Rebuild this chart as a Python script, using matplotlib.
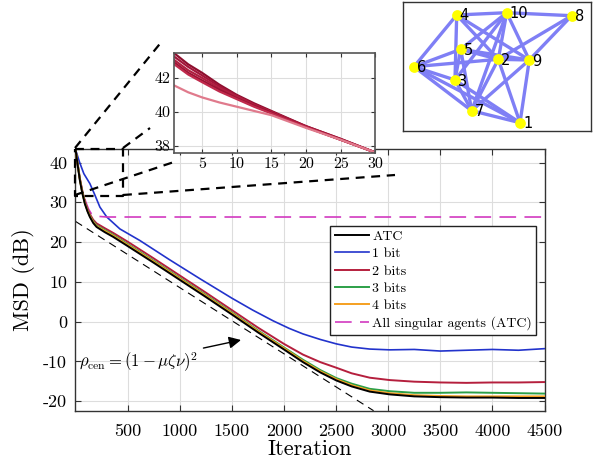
import numpy as np
import matplotlib
matplotlib.use("Agg")
import matplotlib.pyplot as plt
from matplotlib.lines import Line2D

plt.rcParams['font.family'] = ['cmr10', 'DejaVu Serif']
plt.rcParams['mathtext.fontset'] = 'cm'
plt.rcParams['axes.formatter.use_mathtext'] = True

# ---- main curves (iteration, MSD in dB) ----
it_atc = [1, 20, 42, 65, 90, 115, 138, 170, 202, 280, 362, 500, 750, 1000, 1250, 1500,
          1750, 2000, 2183, 2350, 2503, 2650, 2823, 3015, 3250, 3500, 3750, 4000, 4250, 4500]
msd_atc = [43.2, 39.5, 35.5, 32.3, 29.6, 27.7, 26.3, 24.8, 23.8, 22.5, 21.3, 19.0, 14.8, 10.5,
           6.2, 1.8, -2.7, -7.0, -10.2, -12.8, -14.8, -16.3, -17.6, -18.3, -18.8, -19.0,
           -19.1, -19.1, -19.2, -19.2]
msd_4bit = [43.2, 39.6, 35.7, 32.5, 29.8, 27.9, 26.5, 25.0, 24.0, 22.8, 21.6, 19.3, 15.1, 10.8,
            6.5, 2.1, -2.4, -6.7, -9.9, -12.5, -14.5, -16.0, -17.3, -18.0, -18.5, -18.7,
            -18.8, -18.8, -18.8, -18.8]
msd_3bit = [43.2, 39.7, 35.8, 32.6, 29.9, 28.0, 26.6, 25.2, 24.2, 23.0, 21.8, 19.5, 15.3, 11.0,
            6.7, 2.3, -2.2, -6.5, -9.6, -12.2, -14.2, -15.6, -16.9, -17.5, -17.9, -17.9,
            -17.8, -17.9, -18.0, -18.1]
msd_2bit = [43.3, 39.9, 36.0, 32.9, 30.2, 28.4, 27.0, 25.6, 24.7, 23.5, 22.3, 20.1, 15.9, 11.6,
            7.3, 2.9, -1.5, -5.6, -8.3, -10.2, -11.6, -13.0, -14.1, -14.7, -15.1, -15.3,
            -15.4, -15.3, -15.3, -15.2]

it_1bit = [1, 40, 80, 138, 180, 234, 300, 426, 617, 900, 1193, 1500, 1700, 1896, 2050, 2183,
           2350, 2503, 2650, 2823, 3015, 3250, 3500, 3750, 4000, 4250, 4500]
msd_1bit = [43.2, 40.0, 37.2, 34.7, 32.2, 28.8, 26.3, 23.3, 20.4, 15.6, 10.8, 5.9, 2.9, 0.2,
            -1.7, -3.1, -4.5, -5.6, -6.4, -6.9, -7.1, -7.0, -7.4, -7.2, -7.0, -7.2, -6.8]

it_single = [1, 25, 50, 75, 100, 125, 150, 200, 300, 4500]
msd_single = [43.2, 38.5, 34.8, 32.0, 30.0, 28.3, 27.2, 26.5, 26.3, 26.3]

# centralized rate reference line
it_cen = [0, 2860]
msd_cen = [25.2, -22.4]

# ---- zoomed inset: several agents, 2 bits ----
it_zoom = [1, 3, 5, 7.5, 10, 12.5, 15, 20, 25, 30]
zoom_curves = [
    [43.45, 42.8, 42.3, 41.6, 41.0, 40.5, 40.05, 39.15, 38.4, 37.6],
    [43.25, 42.65, 42.15, 41.5, 40.95, 40.45, 40.0, 39.15, 38.4, 37.6],
    [43.05, 42.45, 42.0, 41.4, 40.9, 40.4, 40.0, 39.1, 38.35, 37.6],
    [42.9, 42.3, 41.85, 41.3, 40.8, 40.35, 39.95, 39.1, 38.35, 37.6],
    [42.8, 42.2, 41.75, 41.2, 40.75, 40.3, 39.9, 39.1, 38.35, 37.6],
    [41.55, 41.15, 40.85, 40.55, 40.3, 40.05, 39.8, 39.05, 38.35, 37.6],
]
zoom_colors = ['#8e0f2e', '#a3163a', '#b01f40', '#9a1233', '#c02a4c', '#e07a8c']

# ---- network ----
node_x = [520.0, 498.3, 455.0, 456.7, 460.7, 414.0, 471.7, 571.7, 529.3, 506.7]
node_y = [122.7, 59.3, 80.0, 15.0, 49.3, 66.7, 110.7, 15.7, 60.0, 12.7]
edges = [(4, 10), (10, 8), (4, 6), (4, 3), (4, 2), (4, 9), (10, 5), (10, 3), (10, 2),
         (10, 9), (10, 7), (8, 2), (8, 9), (5, 2), (5, 9), (5, 6), (5, 3), (5, 7),
         (6, 2), (6, 3), (6, 7), (6, 1), (3, 7), (3, 1), (2, 9), (2, 7), (2, 1),
         (9, 7), (9, 1), (7, 1)]

W, H = 593, 465


def fx(x):
    return x / W


def fy(y):
    return 1 - y / H


fig = plt.figure(figsize=(5.93, 4.65), dpi=100)
ax = fig.add_axes([fx(75.5), fy(410.7), fx(544.5) - fx(75.5), fy(149) - fy(410.7)])

ax.plot(it_atc, msd_atc, color='black', lw=1.4, label='ATC', zorder=6)
ax.plot(it_1bit, msd_1bit, color='#2233cc', lw=1.2, label='1 bit', zorder=3)
ax.plot(it_atc, msd_2bit, color='#b51f3d', lw=1.4, label='2 bits', zorder=4)
ax.plot(it_atc, msd_3bit, color='#2ca048', lw=1.4, label='3 bits', zorder=4)
ax.plot(it_atc, msd_4bit, color='#f5a020', lw=1.4, label='4 bits', zorder=5)
ax.plot(it_single, msd_single, color='#d23ac0', lw=1.2, ls=(0, (10, 5)),
        label='All singular agents (ATC)', zorder=3)
ax.plot(it_cen, msd_cen, color='black', lw=0.8, ls=(0, (7, 5)), zorder=2)

ax.set_xlim(0, 4500)
ax.set_ylim(-22.4, 43.4)
ax.set_xticks(np.arange(500, 4501, 500))
ax.set_xticklabels([str(v) for v in range(500, 4501, 500)], fontsize=13)
yt = np.arange(-20, 41, 10)
ax.set_yticks(yt)
ax.set_yticklabels([str(v) for v in yt], fontsize=13)
ax.tick_params(direction='in', top=True, right=True, length=4, color='#333333')
ax.tick_params(axis='x', pad=9)
ax.tick_params(axis='y', pad=6)
ax.grid(True, color='#dddddd', lw=0.8)
for s in ax.spines.values():
    s.set_color('#333333')
    s.set_linewidth(1.0)
ax.set_xlabel('Iteration', fontsize=16, labelpad=1)
ax.set_ylabel('MSD (dB)', fontsize=16, labelpad=6)

leg = ax.legend(loc='upper right', bbox_to_anchor=(fx(536), fy(226)),
                bbox_transform=fig.transFigure, borderaxespad=0, fontsize=10,
                fancybox=False, edgecolor='#222222', framealpha=1, handlelength=2.5,
                handletextpad=0.2, labelspacing=0.33, borderpad=0.3)
leg.get_frame().set_linewidth(1.0)

ax.annotate(r'$\rho_{\rm cen} = (1-\mu\zeta\nu)^2$',
            xy=(fx(241), fy(340)), xycoords='figure fraction',
            xytext=(fx(79), fy(362)), textcoords='figure fraction',
            fontsize=12, va='center', ha='left',
            arrowprops=dict(arrowstyle='-|>', color='black', lw=1.0,
                            mutation_scale=18, shrinkA=2, shrinkB=0))

# zoom box in main axes
ax.plot([0, 455, 455, 0, 0], [43.4, 43.4, 31.7, 31.7, 43.4], color='black',
        lw=1.6, ls=(0, (4, 3)), zorder=8, clip_on=False)

# connector lines
conn = [((75, 148), (163, 40)), ((123, 148), (150, 128)),
        ((75, 195), (174, 162)), ((123, 195), (395, 175))]
for (x0, y0), (x1, y1) in conn:
    fig.add_artist(Line2D([fx(x0), fx(x1)], [fy(y0), fy(y1)], color='black', lw=1.6,
                          ls=(0, (4, 3)), transform=fig.transFigure, zorder=7))

# inset
axi = fig.add_axes([fx(174.3), fy(153.3), fx(375.3) - fx(174.3), fy(53.3) - fy(153.3)])
for c, col in zip(zoom_curves, zoom_colors):
    axi.plot(it_zoom, c, color=col, lw=1.6)
axi.set_xlim(1, 30)
axi.set_ylim(37.55, 43.45)
axi.set_xticks([5, 10, 15, 20, 25, 30])
axi.set_xticklabels(['5', '10', '15', '20', '25', '30'], fontsize=11.5)
axi.set_yticks([38, 40, 42])
axi.set_yticklabels(['38', '40', '42'], fontsize=11.5)
axi.tick_params(direction='in', top=True, right=True, length=3, pad=3, color='#333333')
axi.grid(True, color='#dddddd', lw=0.8)
for s in axi.spines.values():
    s.set_color('#555555')
    s.set_linewidth(1.2)

# network axes
axn = fig.add_axes([fx(403), fy(131), fx(591) - fx(403), fy(2) - fy(131)])
for a, b in edges:
    axn.plot([node_x[a - 1], node_x[b - 1]], [node_y[a - 1], node_y[b - 1]],
             color='#7f7ff5', lw=2.4, zorder=1, solid_capstyle='round')
axn.scatter(node_x, node_y, s=60, color='#ffff00', zorder=3, linewidths=0)
for i, (x, y) in enumerate(zip(node_x, node_y)):
    axn.text(x + 3, y + 1, str(i + 1), fontsize=10.5, family='DejaVu Sans',
             va='center', ha='left', zorder=4)
axn.set_xlim(403, 591)
axn.set_ylim(131, 2)
axn.set_xticks([])
axn.set_yticks([])
for s in axn.spines.values():
    s.set_color('#333333')
    s.set_linewidth(1.0)

fig.savefig('out.png', dpi=100)
